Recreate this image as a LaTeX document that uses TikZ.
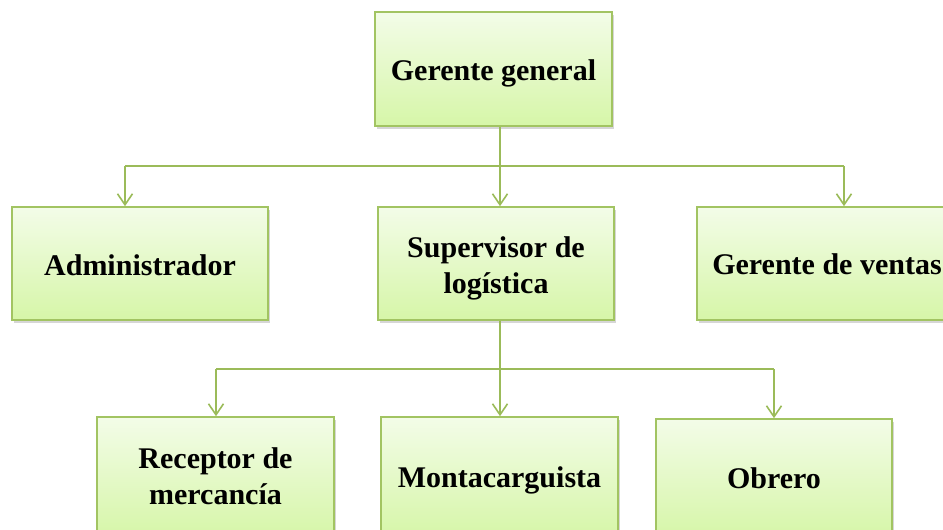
\documentclass[tikz,border=0pt]{standalone}
\usepackage{fontspec}
\setmainfont{Liberation Serif}
\usetikzlibrary{arrows.meta,shadows}
\definecolor{lineg}{RGB}{155,187,89}
\definecolor{boxline}{RGB}{162,196,98}
\definecolor{filltop}{RGB}{243,252,232}
\definecolor{fillbot}{RGB}{214,246,168}
\tikzset{
  orgbox/.style={rectangle, draw=boxline, line width=1.6pt, top color=filltop, bottom color=fillbot,
    inner sep=0pt,
    drop shadow={shadow xshift=2pt, shadow yshift=-3pt, opacity=0.35, fill=black!45}},
  lbl/.style={inner sep=0pt, align=center, font=\fontsize{30}{36}\selectfont\bfseries},
  link/.style={draw=lineg, line width=1.6pt},
  arr/.style={link, -{Straight Barb[length=11pt,width=15pt,line width=1.6pt]}}
}
\begin{document}
\begin{tikzpicture}[x=1pt,y=-1pt]
\useasboundingbox (0,0) rectangle (943,530);
\fill[white] (0,0) rectangle (943,530);
% boxes
\node[orgbox, minimum width=237pt, minimum height=114pt] (gg) at (493.5,69) {};
\node[orgbox, minimum width=256pt, minimum height=113pt] (ad) at (140,263.5) {};
\node[orgbox, minimum width=236pt, minimum height=113pt] (sv) at (496,263.5) {};
\node[orgbox, minimum width=260pt, minimum height=113pt] (gv) at (827,263.5) {};
\node[orgbox, minimum width=237pt, minimum height=120pt] (rc) at (215.5,477) {};
\node[orgbox, minimum width=237pt, minimum height=120pt] (mc) at (499.5,477) {};
\node[orgbox, minimum width=236pt, minimum height=118pt] (ob) at (774,478) {};
% texts
\node[lbl] (ggt) at ([yshift=-4pt]gg.center) {Gerente general};
\node[lbl] (adt) at ([yshift=-2pt]ad.center) {Administrador};
\node[lbl] (svt) at ([yshift=-5pt]sv.center) {Supervisor de\\log\'istica};
\node[lbl] (gvt) at ([yshift=-1pt]gv.center) {Gerente de ventas};
\node[lbl] (rct) at ([yshift=1pt]rc.center) {Receptor de\\mercanc\'ia};
\node[lbl] (mct) at ([yshift=-3pt]mc.center) {Montacarguista};
\node[lbl] (obt) at ([yshift=0pt]ob.center) {Obrero};
% first level connectors
\coordinate (t1) at (500,166);
\coordinate (a1) at (125,166);
\coordinate (a3) at (844,166);
\draw[link] (t1 |- gg.south) -- (t1);
\draw[link] (a1) -- (a3);
\draw[arr] (a1) -- (a1 |- ad.north);
\draw[arr] (t1) -- (t1 |- sv.north);
\draw[arr] (a3) -- (a3 |- gv.north);
% second level connectors
\coordinate (t2) at (500,369);
\coordinate (b1) at (216,369);
\coordinate (b3) at (774,369);
\draw[link] (t2 |- sv.south) -- (t2);
\draw[link] (b1) -- (b3);
\draw[arr] (b1) -- (b1 |- rc.north);
\draw[arr] (t2) -- (t2 |- mc.north);
\draw[arr] (b3) -- (b3 |- ob.north);
\end{tikzpicture}
\end{document}
